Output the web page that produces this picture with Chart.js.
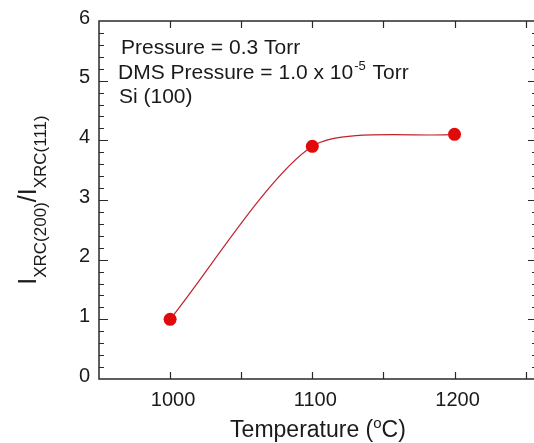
<!DOCTYPE html>
<html>
<head>
<meta charset="utf-8">
<script src="https://cdn.jsdelivr.net/npm/chart.js@4"></script>
<style>
  html, body { margin: 0; padding: 0; background: #fff; overflow: hidden; }
  canvas { display: block; }
</style>
</head>
<body>
<canvas id="chart" width="548" height="443"></canvas>
<script>
// data
const temperatures = [1000, 1100, 1200];
const ratios = [1.0, 3.9, 4.1];
const xTickLabels = [1000, 1100, 1200];
const xMinorTicks = [1050, 1150, 1250];
const yTickLabels = [0, 1, 2, 3, 4, 5, 6];
const notes = ["Pressure = 0.3 Torr", "DMS Pressure = 1.0 x 10", "Si (100)"];

const FONT = "'Liberation Sans', Arial, sans-serif";
const INK = "#1a1a1a";

// frame, inward ticks and all the odd text (sub/superscripts)
const decorPlugin = {
  id: "decor",
  afterDraw(chart) {
    const ctx = chart.ctx;
    const { left, right, top, bottom } = chart.chartArea;
    const xs = chart.scales.x;
    const ys = chart.scales.y;
    ctx.save();
    ctx.strokeStyle = "#2a2a2a";
    ctx.lineWidth = 1.5;
    ctx.strokeRect(left, top, right - left, bottom - top);

    ctx.lineWidth = 1.2;
    ctx.beginPath();
    // x ticks, bottom and top
    xTickLabels.concat(xMinorTicks).forEach((v) => {
      const px = Math.round(xs.getPixelForValue(v)) + 0.5;
      ctx.moveTo(px, bottom); ctx.lineTo(px, bottom - 7);
      ctx.moveTo(px, top); ctx.lineTo(px, top + 7);
    });
    // y ticks every 0.2, both sides
    for (let i = 1; i < 30; i++) {
      const v = i / 5;
      const py = Math.round(ys.getPixelForValue(v)) + 0.5;
      const len = i % 5 === 0 ? 9 : 5;
      ctx.moveTo(left, py); ctx.lineTo(left + len, py);
      ctx.moveTo(right, py); ctx.lineTo(right - len, py);
    }
    ctx.stroke();

    ctx.fillStyle = INK;
    ctx.textBaseline = "alphabetic";
    ctx.textAlign = "left";

    // notes block
    ctx.font = "21px " + FONT;
    ctx.fillText(notes[0], 121, 54);
    ctx.fillText(notes[1], 118, 79);
    let w = ctx.measureText(notes[1]).width;
    ctx.font = "13px " + FONT;
    ctx.fillText("-5", 118 + w + 1, 70);
    let w2 = ctx.measureText("-5").width;
    ctx.font = "21px " + FONT;
    ctx.fillText(" Torr", 118 + w + w2 + 2, 79);
    ctx.fillText(notes[2], 119, 103);

    // x title: Temperature (ºC)
    const partA = "Temperature (";
    const partB = "C)";
    ctx.font = "23px " + FONT;
    const wa = ctx.measureText(partA).width;
    const wb = ctx.measureText(partB).width;
    ctx.font = "15px " + FONT;
    const wo = ctx.measureText("o").width;
    let tx = (left + right) / 2 - (wa + wo + wb) / 2;
    ctx.font = "23px " + FONT;
    ctx.fillText(partA, tx, 437);
    ctx.font = "15px " + FONT;
    ctx.fillText("o", tx + wa, 428);
    ctx.font = "23px " + FONT;
    ctx.fillText(partB, tx + wa + wo, 437);

    // y title: I_XRC(200) / I_XRC(111)
    const pieces = [
      { t: "I", f: 25, dy: 0 },
      { t: "XRC(200)", f: 17, dy: 10 },
      { t: "/I", f: 25, dy: 0 },
      { t: "XRC(111)", f: 17, dy: 10 },
    ];
    let total = 0;
    pieces.forEach((p) => {
      ctx.font = p.f + "px " + FONT;
      p.w = ctx.measureText(p.t).width;
      total += p.w;
    });
    ctx.translate(36, 200 + total / 2);
    ctx.rotate(-Math.PI / 2);
    let cx = 0;
    pieces.forEach((p) => {
      ctx.font = p.f + "px " + FONT;
      ctx.fillText(p.t, cx, p.dy);
      cx += p.w;
    });
    ctx.restore();
  },
};

new Chart(document.getElementById("chart"), {
  type: "line",
  data: {
    datasets: [
      {
        data: temperatures.map((t, i) => ({ x: t, y: ratios[i] })),
        borderColor: "#c0222a",
        borderWidth: 1.2,
        tension: 0.25,
        pointRadius: 6.5,
        pointBackgroundColor: "#e00a0a",
        pointBorderWidth: 0,
        pointHoverRadius: 6.5,
      },
    ],
  },
  options: {
    responsive: false,
    animation: false,
    events: [],
    layout: { padding: { top: 21, right: 11, left: 0, bottom: 0 } },
    plugins: { legend: { display: false }, tooltip: { enabled: false } },
    scales: {
      x: {
        type: "linear",
        min: 950,
        max: 1258,
        grid: { display: false, drawTicks: false },
        border: { display: false },
        afterBuildTicks: (s) => { s.ticks = xTickLabels.map((v) => ({ value: v })); },
        afterFit: (s) => { s.height = 64; },
        ticks: {
          padding: 9,
          labelOffset: 3,
          color: INK,
          font: { family: FONT, size: 20 },
          callback: (v) => String(v),
        },
      },
      y: {
        min: 0,
        max: 6,
        grid: { display: false, drawTicks: false },
        border: { display: false },
        afterBuildTicks: (s) => { s.ticks = yTickLabels.map((v) => ({ value: v })); },
        afterFit: (s) => { s.width = 99; },
        ticks: {
          padding: 9,
          labelOffset: -3,
          color: INK,
          font: { family: FONT, size: 20 },
          callback: (v) => String(v),
        },
      },
    },
  },
  plugins: [decorPlugin],
});
</script>
</body>
</html>
